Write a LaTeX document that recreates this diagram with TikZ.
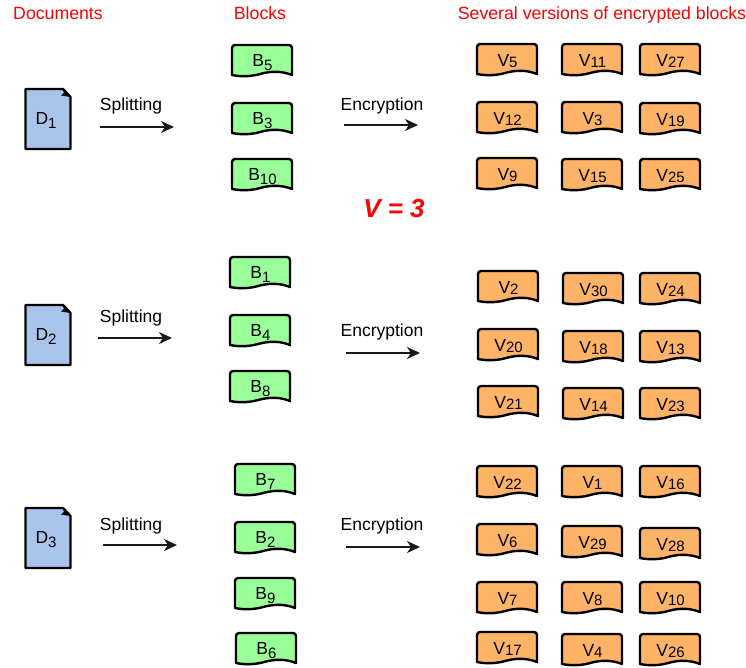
\documentclass[tikz,border=0pt]{standalone}
\usepackage{fontspec}
\setmainfont{Liberation Sans}
\usetikzlibrary{arrows.meta}
\definecolor{blockgreen}{HTML}{99FF99}
\definecolor{versionorange}{HTML}{FFB366}
\definecolor{docblue}{HTML}{A9C4EB}
\newcommand\idx[2]{\raisebox{#1}{\fontsize{15}{15}\selectfont #2}}
\tikzset{
  x=1pt,y=-1pt,
  shapeline/.style={draw=black,line width=2.4pt,line join=round},
  lab/.style={font=\fontsize{17.5}{19}\selectfont,inner sep=0pt,text=black,anchor=base},
  title/.style={font=\fontsize{17.7}{19}\selectfont,inner sep=0pt,text=red,anchor=base},
  flow/.style={-{Stealth[length=13pt,width=12pt,inset=4pt]},line width=1.1pt,draw=black!90}
}
% name, cx, cy, fill, letter, index, baseline offset, index drop
\newcommand\flag[8]{%
  \draw[shapeline,fill=#4,shift={(#2,#3)}]
    (-30,15) -- (-30,-12) arc[start angle=180,end angle=90,radius=3pt] -- (27,-15)
    arc[start angle=90,end angle=0,radius=3pt] -- (30,15)
    .. controls (20,11) and (10,11) .. (0,13.5)
    .. controls (-10,16.5) and (-20,17) .. (-30,15) -- cycle;
  \path[shift={(#2,#3)}] node[lab] (#1) at (0.5,#7) {#5\idx{#8}{#6}};
}
% name, cx, cy, index
\newcommand\docu[4]{%
  \draw[shapeline,fill=docblue,shift={(#2,#3)}]
    (-22.5,-30) -- (15,-30) -- (22.5,-22) -- (22.5,30) -- (-22.5,30) -- cycle;
  \fill[black,shift={(#2,#3)}] (15,-30) -- (22.5,-22) -- (13,-23.5) -- (16,-26.5) -- cycle;
  \path[shift={(#2,#3)}] node[lab] (#1) at (-2,5) {D\idx{-4pt}{#4}};
}
\begin{document}
\begin{tikzpicture}
\useasboundingbox (0,0) rectangle (746,667);
% titles
\node[title] (tdoc) at (58,19) {Documents};
\node[title] (tblk) at (260,19) {Blocks};
\node[title] (tver) at (602,19) {Several versions of encrypted blocks};
\node[inner sep=0pt,anchor=base,text=red,font=\fontsize{26}{28}\selectfont\bfseries\itshape] (vval) at (394,217) {V = 3};
% documents
\docu{d1}{48}{119}{1}
\docu{d2}{48}{335}{2}
\docu{d3}{48}{538}{3}
% blocks
\foreach \n/\x/\y/\i in {b5/262/60/5,b3/262/118/3,b10/262/174/10,
  b1/260/272/1,b4/260/330/4,b8/260/386/8,
  b7/265/479/7,b2/265/537/2,b9/265/593/9,b6/266/648/6}
  {\flag{\n}{\x}{\y}{blockgreen}{B}{\i}{6}{-4pt}}
% versions
\foreach \n/\x/\y/\i in {v5/507/59/5,v11/592/59/11,v27/670/59/27,
  v12/507/117/12,v3/592/117/3,v19/670/118/19,
  v9/507/173/9,v15/592/174/15,v25/670/174/25,
  v2/508/286/2,v30/593/288/30,v24/670/288/24,
  v20/508/344/20,v18/593/346/18,v13/670/346/13,
  v21/508/401/21,v14/593/403/14,v23/670/403/23,
  v22/507/481/22,v1/592/481/1,v16/670/481/16,
  v6/507/539/6,v29/592/541/29,v28/670/543/28,
  v7/507/597/7,v8/592/597/8,v10/670/597/10,
  v17/507/647/17,v4/592/649/4,v26/670/649/26}
  {\flag{\n}{\x}{\y}{versionorange}{V}{\i}{7.7}{-0.7pt}}
% arrow labels
\node[lab] (s1) at (131,110) {Splitting};
\node[lab] (e1) at (382,110) {Encryption};
\node[lab] (s2) at (131,322) {Splitting};
\node[lab] (e2) at (382,336) {Encryption};
\node[lab] (s3) at (131,530) {Splitting};
\node[lab] (e3) at (382,530) {Encryption};
% arrow ends
\coordinate (s1a) at (100,127); \coordinate (s1b) at (174,127);
\coordinate (e1a) at (344,125); \coordinate (e1b) at (418,125);
\coordinate (s2a) at (98,338);  \coordinate (s2b) at (172,338);
\coordinate (e2a) at (346,353); \coordinate (e2b) at (420,353);
\coordinate (s3a) at (103,545); \coordinate (s3b) at (177,545);
\coordinate (e3a) at (346,547); \coordinate (e3b) at (420,547);
\foreach \p in {s1,e1,s2,e2,s3,e3}
  {\draw[flow] (\p a) -- (\p b);}
\end{tikzpicture}
\end{document}
